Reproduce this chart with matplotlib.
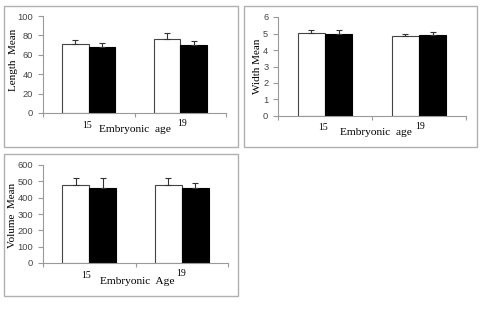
import matplotlib
matplotlib.use("Agg")
import matplotlib.pyplot as plt
from matplotlib.patches import Rectangle

categories = ["15", "19"]
length_white = [71, 76]
length_black = [68.5, 70]
length_white_err = [4.5, 6]
length_black_err = [4, 4]

width_white = [5.05, 4.87]
width_black = [5.0, 4.92]
width_white_err = [0.17, 0.08]
width_black_err = [0.22, 0.2]

volume_white = [475, 475]
volume_black = [462, 458]
volume_white_err = [43, 43]
volume_black_err = [60, 29]

W, H = 483, 323
fig = plt.figure(figsize=(W / 100, H / 100), dpi=100)
fig.patch.set_facecolor("white")

SERIF = ["Liberation Serif", "DejaVu Serif"]
SANS = ["Liberation Sans", "DejaVu Sans"]
GRAY = "#9a9a9a"


def px_box(x0, y0, x1, y1):
    return [x0 / W, 1 - y1 / H, (x1 - x0) / W, (y1 - y0) / H]


def ptext(x, y, s, **kw):
    fig.text(x / W, 1 - y / H, s, ha="center", va="center", family=SERIF, **kw)


def panel(ax_px, box_px, white, black, werr, berr, ymax, ystep,
          ylabel, ylab_xy, xlabel, xlab_xy, c1_xy, c2_xy):
    bx = px_box(*box_px)
    fig.patches.append(Rectangle((bx[0], bx[1]), bx[2], bx[3], transform=fig.transFigure,
                                 fill=False, edgecolor="#b0b0b0", linewidth=1.0))
    ax = fig.add_axes(px_box(*ax_px))
    centers = [0.5, 1.5]
    bw = 0.29
    xw = [c - bw / 2 for c in centers]
    xb = [c + bw / 2 for c in centers]
    ax.bar(xw, white, bw, color="white", edgecolor="#444444", linewidth=0.8, zorder=2)
    ax.bar(xb, black, bw, color="black", edgecolor="black", linewidth=0.8, zorder=2)
    ax.errorbar(xw, white, yerr=[[0] * len(white), werr], fmt="none", ecolor="#333333",
                elinewidth=0.8, capsize=2.5, capthick=0.8, zorder=3)
    ax.errorbar(xb, black, yerr=[[0] * len(black), berr], fmt="none", ecolor="#333333",
                elinewidth=0.8, capsize=2.5, capthick=0.8, zorder=3)
    ax.set_xlim(0, 2)
    ax.set_ylim(0, ymax)
    ticks = [i * ystep for i in range(int(round(ymax / ystep)) + 1)]
    ax.set_yticks(ticks)
    ax.set_yticklabels([f"{t:g}" for t in ticks], fontsize=6.7, family=SANS, color="#444444")
    ax.set_xticks([0, 1, 2])
    ax.set_xticklabels([])
    ax.tick_params(axis="x", direction="out", length=3, color=GRAY, width=0.8)
    ax.tick_params(axis="y", direction="out", length=3.5, color=GRAY, width=0.8, pad=3.5)
    for s in ["top", "right"]:
        ax.spines[s].set_visible(False)
    for s in ["left", "bottom"]:
        ax.spines[s].set_color(GRAY)
        ax.spines[s].set_linewidth(0.8)
    ptext(*ylab_xy, ylabel, rotation=90, fontsize=8.0)
    ptext(*c1_xy, categories[0], fontsize=7)
    ptext(*c2_xy, categories[1], fontsize=7)
    ptext(*xlab_xy, xlabel, fontsize=8.2)
    ax.set_facecolor("white")
    return ax


panel((43, 16, 226, 113), (4, 6, 238, 147), length_white, length_black,
      length_white_err, length_black_err, 100, 20,
      "Length  Mean", (14, 60), "Embryonic  age", (135, 130), (87, 125), (182, 124))
panel((278, 17, 466, 116), (244, 6, 477, 147), width_white, width_black,
      width_white_err, width_black_err, 6, 1,
      "Width Mean", (257, 66), "Embryonic  age", (376, 132), (323, 127), (420, 126))
panel((43, 165, 228, 263), (4, 154, 238, 296), volume_white, volume_black,
      volume_white_err, volume_black_err, 600, 100,
      "Volume  Mean", (13, 215), "Embryonic  Age", (137, 281), (86, 275), (181, 274))

fig.savefig("out.png", dpi=100)
